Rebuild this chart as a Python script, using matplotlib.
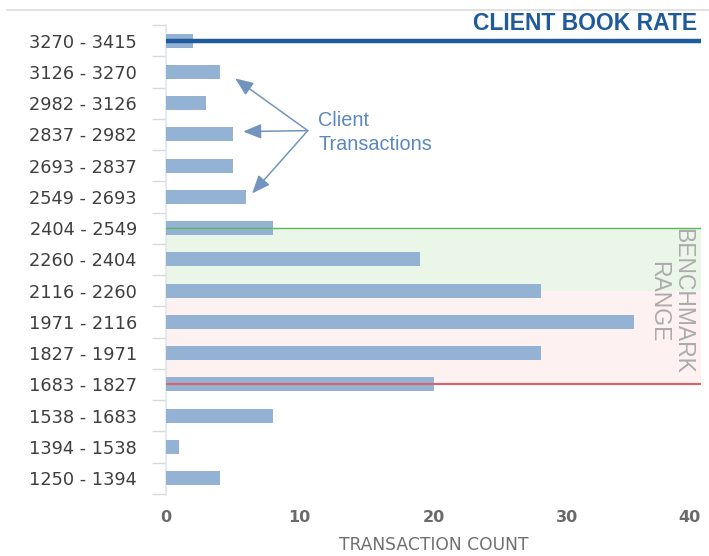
import matplotlib
matplotlib.use("Agg")
import matplotlib.pyplot as plt
from matplotlib.lines import Line2D
import numpy as np

plt.rcParams['font.family'] = ['DejaVu Sans']

categories = ["3270 - 3415", "3126 - 3270", "2982 - 3126", "2837 - 2982", "2693 - 2837",
              "2549 - 2693", "2404 - 2549", "2260 - 2404", "2116 - 2260", "1971 - 2116",
              "1827 - 1971", "1683 - 1827", "1538 - 1683", "1394 - 1538", "1250 - 1394"]
counts = [2, 4, 3, 5, 5, 6, 8, 19, 28, 35, 28, 20, 8, 1, 4]
x_ticks = [0, 10, 20, 30, 40]
client_rate_cat = "3270 - 3415"
bench_high_cat = "2404 - 2549"
bench_mid_cat = "2116 - 2260"
bench_low_cat = "1683 - 1827"

fig = plt.figure(figsize=(7.09, 5.56), dpi=100)
ax = fig.add_axes([166/709, 1-495/556, (701-166)/709, (495-25)/556])

y = np.arange(len(categories))
ax.barh(y, counts, height=0.45, color="#94b2d3", zorder=3)

yc = categories.index(client_rate_cat)
yh = categories.index(bench_high_cat)
ym = categories.index(bench_mid_cat)
yl = categories.index(bench_low_cat)

ax.axhspan(yh, ym, color="#eaf6e8", zorder=1)
ax.axhspan(ym, yl, color="#fdf2f1", zorder=1)
ax.axhline(yh, color="#5cb85c", lw=1.0, zorder=4)
ax.axhline(yl, color="#e0606a", lw=1.5, zorder=4)
ax.axhline(yc, color="#1f5a9a", lw=3.2, zorder=4)

ax.set_xlim(0, 40)
ax.set_ylim(len(categories) - 0.46, -0.48)
ax.set_yticks(y)
ax.set_yticklabels(categories)
ax.set_yticks(np.arange(-0.5, len(categories), 1.0), minor=True)
ax.tick_params(axis='y', which='major', length=0, pad=21, labelsize=12.8, labelcolor="#3f3f3f")
ax.tick_params(axis='y', which='minor', length=10, color="#d8d8d8", width=1)
ax.set_xticks(x_ticks)
ax.set_xticklabels([str(t) for t in x_ticks])
ax.tick_params(axis='x', length=0, pad=11, labelsize=11.5, labelcolor="#6a6a6a")
for lbl in ax.get_xticklabels():
    lbl.set_fontweight('bold')
xl = ax.get_xticklabels()
xl[-1].set_horizontalalignment('right')
ax.set_xlabel("TRANSACTION COUNT", fontsize=12.3, color="#707070", labelpad=8)

for s in ["top", "right", "bottom"]:
    ax.spines[s].set_visible(False)
ax.spines["left"].set_color("#dfe6ee")
ax.spines["left"].set_linewidth(1.2)

ax.text(1.0 - 4/535, 1.0 + 2/470, "CLIENT BOOK RATE", transform=ax.transAxes, ha='right', va='center',
        fontsize=16.5, fontweight='bold', color="#1f5a9a", family=['Liberation Sans'])

ax.text(38.65, 8.34, "BENCHMARK", rotation=-90, ha='center', va='center',
        fontsize=16.5, color="#ababab", family=['Liberation Sans'])
ax.text(36.85, 8.34, "RANGE", rotation=-90, ha='center', va='center',
        fontsize=16.5, color="#ababab", family=['Liberation Sans'])

ax.text(11.4, 2.95, "Client\nTransactions", fontsize=14.3, color="#5b88bd", ha='left', va='center',
        linespacing=1.35, family=['Liberation Sans'])
src = (10.6, 2.88)
for tgt in [(5.17, 1.21), (5.77, 2.91), (6.44, 4.89)]:
    ax.annotate("", xy=tgt, xytext=src,
                arrowprops=dict(arrowstyle="-|>,head_length=1.1,head_width=0.45",
                                color="#7195be", lw=1.1, shrinkA=0, shrinkB=0), zorder=5)

fig.add_artist(Line2D([7/709, 1.0], [1-10/556, 1-10/556], color="#dddddd", lw=1.2))

fig.savefig("out.png", dpi=100)
